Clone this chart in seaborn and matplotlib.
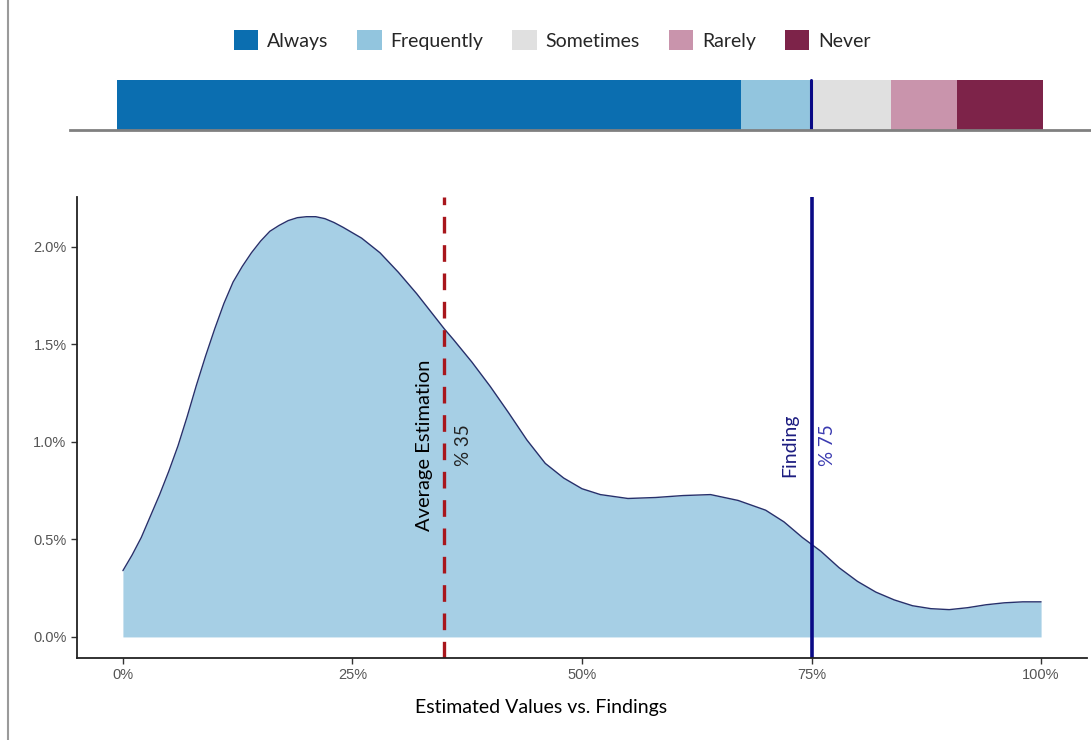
import matplotlib
matplotlib.use("Agg")
import matplotlib.pyplot as plt
from matplotlib.patches import Patch
from matplotlib.lines import Line2D
import pandas as pd
import seaborn as sns

# density curve (x in %, density in %)
density_x = [0, 1, 2, 3, 4, 5, 6, 7, 8, 9, 10, 11, 12, 13, 14, 15, 16, 17, 18,
             19, 20, 21, 22, 23, 24, 26, 28, 30, 32, 34, 35, 36, 38, 40, 42, 44,
             46, 48, 50, 52, 55, 58, 61, 64, 67, 70, 72, 74, 76, 78, 80, 82, 84,
             86, 88, 90, 92, 94, 96, 98, 100]
density_y = [0.34, 0.42, 0.51, 0.62, 0.73, 0.85, 0.98, 1.13, 1.29, 1.44, 1.58,
             1.71, 1.82, 1.90, 1.97, 2.03, 2.08, 2.11, 2.135, 2.15, 2.155, 2.155,
             2.145, 2.125, 2.10, 2.045, 1.97, 1.87, 1.76, 1.64, 1.58, 1.525, 1.41,
             1.285, 1.15, 1.01, 0.89, 0.815, 0.76, 0.73, 0.71, 0.715, 0.725, 0.73,
             0.70, 0.65, 0.59, 0.51, 0.44, 0.355, 0.285, 0.23, 0.19, 0.16, 0.145,
             0.14, 0.15, 0.165, 0.175, 0.18, 0.18]

# top stacked bar (share of answers, %)
categories = ["Always", "Frequently", "Sometimes", "Rarely", "Never"]
shares = [67.4, 7.65, 8.55, 7.1, 9.3]
cat_colors = ["#0b6eb0", "#92c5de", "#e0e0e0", "#c994ac", "#7d2349"]

average_estimation = 35
finding = 75

x_ticks = [0, 25, 50, 75, 100]
y_ticks = [0.0, 0.5, 1.0, 1.5, 2.0]

sns.set_theme(style="white")
plt.rcParams["font.family"] = ["Lato", "DejaVu Sans"]

fig = plt.figure(figsize=(10.91, 7.40), dpi=100)

# --- density panel ---
ax = fig.add_axes([77 / 1091, 1 - 658 / 740, 1010 / 1091, 461 / 740])
df = pd.DataFrame({"x": density_x, "y": density_y})
ax.fill_between(df["x"], 0, df["y"], color="#a6cfe5", linewidth=0)
sns.lineplot(data=df, x="x", y="y", ax=ax, color="#27306b", linewidth=1.0)

ax.axvline(average_estimation, color="#a8161c", linewidth=2.4, linestyle=(0, (5, 3.5)))
ax.axvline(finding, color="#0a0a86", linewidth=2.6)

ax.text(average_estimation - 2.1, 0.985, "Average Estimation", rotation=90,
        ha="center", va="center", fontsize=14.5, color="black")
ax.text(average_estimation + 2.1, 0.985, "% 35", rotation=90,
        ha="center", va="center", fontsize=13.5, color="#222222")
ax.text(finding - 2.4, 0.985, "Finding", rotation=90,
        ha="center", va="center", fontsize=14, color="#1c1c80")
ax.text(finding + 1.7, 0.985, "% 75", rotation=90,
        ha="center", va="center", fontsize=13.5, color="#3a3ab0")

ax.set_xlim(-5, 105)
ax.set_ylim(-0.108, 2.256)
ax.set_xticks(x_ticks)
ax.set_xticklabels([f"{t}%" for t in x_ticks])
ax.set_yticks(y_ticks)
ax.set_yticklabels([f"{t:.1f}%" for t in y_ticks])
ax.tick_params(axis="both", length=4, width=1, color="#333333",
               labelsize=10.5, labelcolor="#555555", direction="out")
ax.xaxis.set_ticks_position("bottom")
ax.yaxis.set_ticks_position("left")
for lab in ax.get_xticklabels() + ax.get_yticklabels():
    lab.set_family(["Liberation Sans", "DejaVu Sans"])
ax.set_xlabel("Estimated Values vs. Findings", fontsize=14, color="black", labelpad=12)
ax.xaxis.label.set_x(0.459)
ax.set_ylabel("")
for side in ["top", "right"]:
    ax.spines[side].set_visible(False)
for side in ["left", "bottom"]:
    ax.spines[side].set_color("#222222")
    ax.spines[side].set_linewidth(1.3)

# --- stacked bar on top ---
ax_top = fig.add_axes([70 / 1091, 1 - 130 / 740, 1020 / 1091, 60 / 740])
left = 0
for cat, val, col in zip(categories, shares, cat_colors):
    ax_top.barh(0.5, val, left=left, height=1.0, color=col, linewidth=0)
    left += val
ax_top.plot([finding, finding], [0, 1], color="#0a0a86", linewidth=2.2)
ax_top.set_xlim(-5.08, 105.08)
ax_top.set_ylim(0, 1.2)
ax_top.set_xticks([])
ax_top.set_yticks([])
for side in ["top", "right", "left"]:
    ax_top.spines[side].set_visible(False)
ax_top.spines["bottom"].set_color("#808080")
ax_top.spines["bottom"].set_linewidth(2)

handles = [Patch(facecolor=c, edgecolor="none", label=l) for l, c in zip(categories, cat_colors)]
fig.legend(handles=handles, loc="center", bbox_to_anchor=(0.506, 1 - 40 / 740),
           ncol=5, frameon=False, fontsize=14, handlelength=1.25, handleheight=1.25,
           handletextpad=0.45, columnspacing=1.5)

# light frame line at the left edge of the picture
fig.add_artist(Line2D([8 / 1091, 8 / 1091], [0, 1], color="#9a9a9a", linewidth=1.5))

fig.savefig("out.png", dpi=100)
